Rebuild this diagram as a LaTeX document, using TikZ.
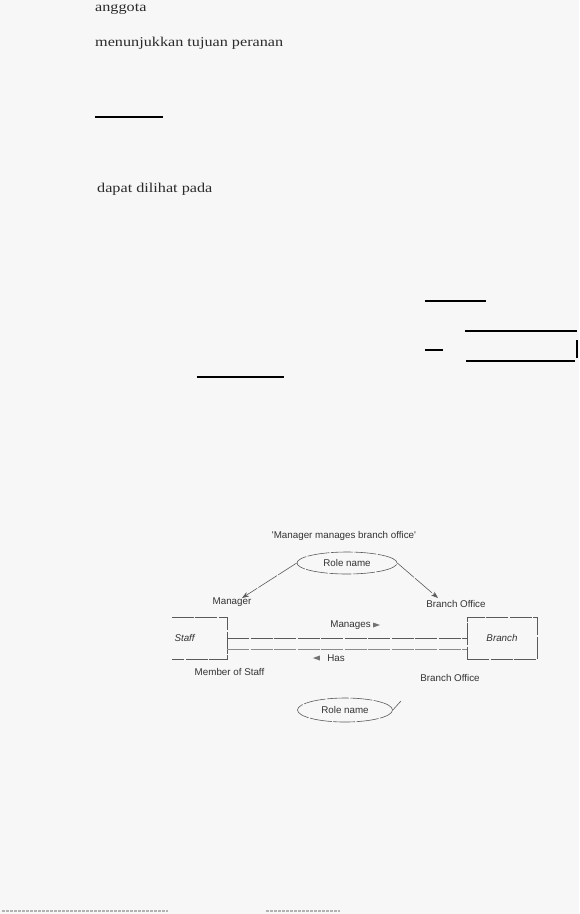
\documentclass[tikz,border=0pt]{standalone}
\usepackage{fontspec}
\setmainfont{Liberation Serif}
\newfontfamily\scanfont[FakeStretch=1.2]{Liberation Serif}
\newfontfamily\diagfont{Liberation Sans}
\usetikzlibrary{positioning}
\usetikzlibrary{arrows.meta}
\usetikzlibrary{shapes.geometric}
\definecolor{paper}{HTML}{F7F7F7}
\definecolor{scanline}{HTML}{5A5A5A}
\definecolor{scantext}{HTML}{2A2A2A}

\begin{document}
\begin{tikzpicture}[x=1pt, y=-1pt,
    bodytext/.style={anchor=base west, inner sep=0pt, font=\scanfont\fontsize{13.5}{16}\selectfont, text=scantext},
    blackrule/.style={line width=2pt},
    lbl/.style={inner sep=0pt, font=\diagfont\fontsize{9.8}{11}\selectfont, text=black!80},
    scan/.style={draw=scanline, line width=0.6pt, dash pattern=on 22pt off 1.5pt},
    rolebox/.style={ellipse, scan, inner sep=0pt, font=\diagfont\fontsize{9.8}{11}\selectfont, text=black!80},
    marker/.style={isosceles triangle, isosceles triangle stretches, fill=black!55, inner sep=0pt, minimum width=5pt, minimum height=7pt}
]

    % Page
    \useasboundingbox (0,0) rectangle (579,914);
    \fill[paper] (0,0) rectangle (579,914);

    % Text lines of the page
    \node[bodytext] (anggota) at (95,11) {anggota};
    \node[bodytext] (tujuan) at (95,46) {menunjukkan tujuan peranan};
    \node[bodytext] (dilihat) at (97,192) {dapat dilihat pada};

    % Rules
    \draw[blackrule] (95,117) -- (163,117);
    \draw[blackrule] (425,301) -- (486,301);
    \draw[blackrule] (465,331) -- (577,331);
    \draw[line width=2.5pt] (577,340) -- (577,358);
    \draw[blackrule] (425,350) -- (443,350);
    \draw[blackrule] (466,361) -- (575,361);
    \draw[blackrule] (197,377) -- (284,377);

    % Diagram caption and role names
    \node[lbl] (caption) at (344,536) {'Manager manages branch office'};
    \node[rolebox, minimum width=100pt, minimum height=22pt] (role) at (347,563) {Role name};
    \node[lbl] (manager) at (232,602) {Manager};
    \node[lbl] (office) at (456,604) {Branch Office};

    \coordinate (mgrtip) at (242,598);
    \coordinate (offtip) at (438,598);
    \draw[scan, -{Stealth[length=7pt, width=5pt]}] (role.west) -- (mgrtip);
    \draw[scan, -{Stealth[length=7pt, width=5pt]}] (role.east) -- (offtip);

    % Entities
    \node[inner sep=2pt, minimum width=55pt, minimum height=42pt, text width=50pt, align=left,
          font=\diagfont\itshape\fontsize{9.8}{11}\selectfont, text=black!80] (staff) at (199.5,638) {Staff};
    \draw[scan] (staff.north west) -- (staff.north east) -- (staff.south east) -- (staff.south west);
    \node[scan, minimum width=70pt, minimum height=42pt, inner sep=0pt,
          font=\diagfont\itshape\fontsize{9.8}{11}\selectfont, text=black!80] (branch) at (502,638) {Branch};

    % Relationships
    \draw[scan] (staff.east) -- (staff.east -| branch.west);
    \draw[scan, draw=scanline!70] ([yshift=-11pt]staff.east) -- ([yshift=-11pt]staff.east -| branch.west);

    \node[lbl] (manages) at (350.5,625) {Manages};
    \node[marker, right=2pt of manages] (managesdir) {};
    \node[lbl] (has) at (336,658) {Has};
    \node[marker, shape border rotate=180, left=7pt of has] (hasdir) {};

    \node[lbl] (member) at (229.5,672) {Member of Staff};
    \node[lbl] (office2) at (450,678) {Branch Office};

    % Lower role name
    \node[rolebox, minimum width=95pt, minimum height=24pt] (role2) at (345,710) {Role name};
    \coordinate (tick) at (401,701);
    \draw[scan] (role2.east) -- (tick);

    % Scanner marks at the foot
    \draw[gray!60, line width=2pt, dash pattern=on 3pt off 1pt] (2,911) -- (168,911);
    \draw[gray!60, line width=2pt, dash pattern=on 3pt off 1pt] (266,911) -- (340,911);

\end{tikzpicture}
\end{document}
